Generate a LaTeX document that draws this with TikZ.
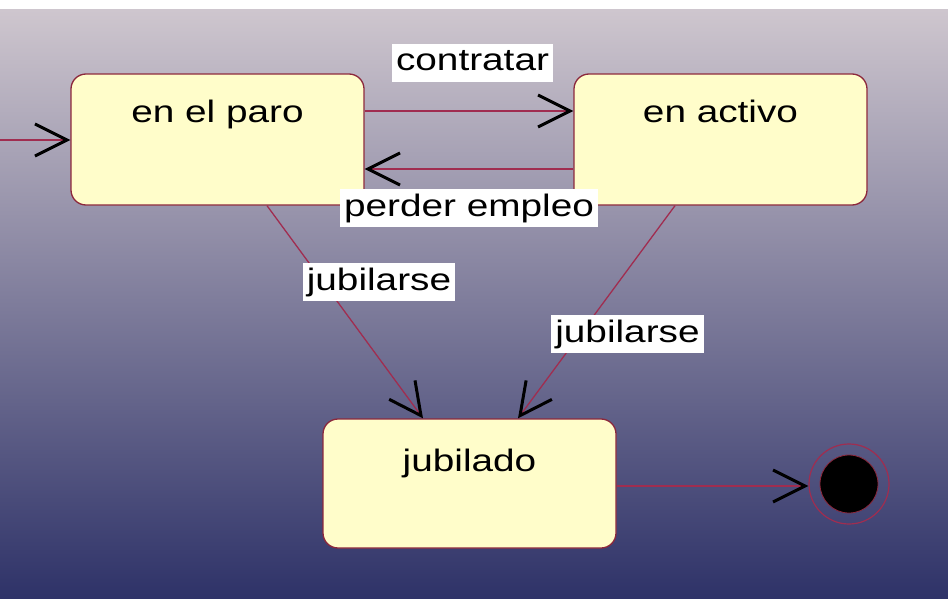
\documentclass[tikz,border=0pt]{standalone}
\usepackage{fontspec}
\setmainfont{Liberation Sans}[FakeStretch=1.25]
\usetikzlibrary{arrows.meta,calc}
\definecolor{bgtop}{RGB}{206,198,206}
\definecolor{bgmid}{RGB}{132,130,160}
\definecolor{bgbot}{RGB}{46,50,104}
\definecolor{boxfill}{RGB}{255,253,202}
\definecolor{boxline}{RGB}{140,40,60}
\definecolor{edgeline}{RGB}{160,45,80}
\tikzset{
  statebox/.style={draw=boxline, line width=1.3pt, fill=boxfill, rounded corners=15pt,
    minimum width=293pt, minimum height=131pt, inner sep=0pt},
  statename/.style={anchor=base, inner sep=0pt, font=\fontsize{31}{36}\selectfont},
  evlabel/.style={fill=white, inner xsep=4pt, inner ysep=4pt, text height=23pt, text depth=7pt,
    font=\fontsize{31}{36}\selectfont},
  trans/.style={draw=edgeline, line width=1.3pt,
    -{Straight Barb[length=32pt,width=32pt,line width=3pt,color=black]}},
}
\begin{document}
\begin{tikzpicture}[x=1pt,y=-1pt]
\useasboundingbox (0,0) rectangle (948,599);
\fill[white] (0,0) rectangle (948,599);
\shade[top color=bgtop, middle color=bgmid, bottom color=bgbot] (0,10) rectangle (948,599);

\node[statebox] (paro) at (217.5,139.5) {};
\node[statebox] (activo) at (720.5,139.5) {};
\node[statebox, minimum height=129pt] (jub) at (469.5,483.5) {};
\node[statename] (paroT) at (217.5,123) {en el paro};
\node[statename] (activoT) at (720.5,123) {en activo};
\node[statename] (jubT) at (469.5,471) {jubilado};

\node[circle, draw=edgeline, line width=1.2pt, minimum size=80pt, inner sep=0pt] (fin) at (849,484) {};
\node[circle, fill=black, draw=boxline, line width=0.8pt, minimum size=58pt, inner sep=0pt] (finin) at (849,484) {};

\coordinate (init) at (0,140);
\draw[trans] (init) -- (paro.west |- init);

\coordinate (c1) at ($(paro.east)+(0,-28.5)$);
\draw[trans] (c1) -- (activo.west |- c1);
\coordinate (c2) at ($(activo.west)+(0,29.5)$);
\draw[trans] (c2) -- (paro.east |- c2);

\coordinate (j1a) at ($(paro.south)+(49.5,0)$);
\coordinate (j1b) at ($(jub.north)+(-46.5,0)$);
\draw[trans] (j1a) -- (j1b);
\coordinate (j2a) at ($(activo.south)+(-45.5,0)$);
\coordinate (j2b) at ($(jub.north)+(48.5,0)$);
\draw[trans] (j2a) -- (j2b);

\coordinate (f1) at ($(jub.east)+(0,2.5)$);
\draw[trans] (f1) -- (fin.west |- f1);

\node[evlabel] (lc) at (472.5,63) {contratar};
\node[evlabel] (lp) at (469,208) {perder empleo};
\node[evlabel] (lj1) at (379,282) {jubilarse};
\node[evlabel] (lj2) at (627.5,334) {jubilarse};
\end{tikzpicture}
\end{document}
